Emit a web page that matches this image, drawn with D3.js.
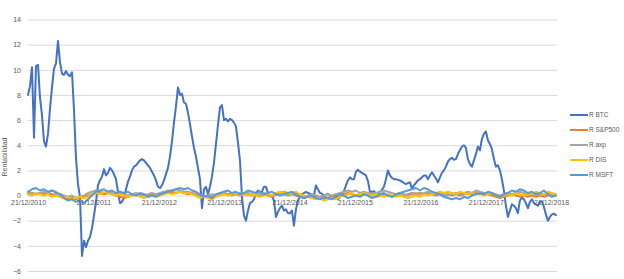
<!DOCTYPE html>
<html>
<head>
<meta charset="utf-8">
<script src="https://cdn.jsdelivr.net/npm/d3@7"></script>
<style>
  body { margin: 0; background: #fff; }
  svg { font-family: "Liberation Sans", Arial, sans-serif; }
</style>
</head>
<body>
<div id="chart"></div>
<script>
// sampled every ~11 days from 21/12/2010
const btc = [
  8.0, 8.7, 10.2, 4.6, 10.3, 10.4, 7.8, 6.4, 4.3, 3.9, 4.9, 6.9, 8.6, 10.1, 10.5, 12.3,
  10.6, 9.7, 9.6, 9.9, 9.6, 9.5, 9.8, 6.8, 3.0, 0.9, -0.1, -4.8, -3.6, -4.1, -3.6, -3.3,
  -2.6, -1.6, -0.5, 0.8, 1.2, 1.5, 2.1, 1.6, 1.8, 2.2, 2.0, 1.7, 1.3, 0.3, -0.6, -0.5,
  -0.2, 0.5, 1.1, 1.5, 2.0, 2.3, 2.4, 2.6, 2.8, 2.9, 2.8, 2.6, 2.4, 2.2, 1.9, 1.6,
  1.2, 0.7, 0.6, 0.8, 1.2, 1.7, 2.2, 3.1, 4.3, 5.8, 7.1, 8.6, 8.0, 8.1, 7.4, 7.3,
  6.6, 5.7, 4.7, 3.8, 3.1, 2.2, 1.3, -1.0, 0.5, 0.7, 0.1, 0.7, 1.5, 2.6, 4.1, 5.6,
  7.0, 7.2, 6.0, 6.1, 5.9, 6.1, 6.0, 5.8, 5.5, 4.2, 2.8, -0.1, -1.6, -2.0, -1.2, -0.6,
  -0.5, -0.3, 0.2, 0.4, 0.3, 0.3, 0.7, 0.7, 0.2, 0.0, 0.0, -0.4, -1.7, -1.3, -1.0, -0.8,
  -1.2, -1.1, -1.4, -1.4, -1.2, -2.4, -1.1, -0.4, -0.1, 0.1, 0.2, 0.3, 0.2, 0.15, 0.05, 0.0,
  0.8, 0.5, 0.2, 0.15, 0.0, 0.05, 0.15, 0.0, -0.1, -0.05, 0.0, -0.3, -0.1, 0.1, 0.35, 0.8,
  1.2, 1.45, 1.3, 1.3, 1.9, 2.05, 1.9, 1.8, 1.7, 1.6, 1.15, 0.3, 0.3, 0.35, 0.15, 0.2,
  0.3, 0.45, 0.7, 1.3, 2.0, 1.6, 1.4, 1.3, 1.3, 1.25, 1.2, 1.1, 1.0, 0.9, 1.0, 1.05,
  0.55, 0.8, 1.0, 1.2, 1.3, 1.45, 1.6, 1.6, 1.3, 1.6, 1.85, 1.6, 1.35, 1.05, 1.45, 1.8,
  2.0, 2.3, 2.7, 2.9, 3.0, 2.85, 2.9, 3.3, 3.6, 3.9, 4.0, 3.8, 2.9, 2.5, 2.3, 2.8,
  3.3, 3.9, 3.6, 4.5, 4.9, 5.1, 4.4, 4.1, 3.7, 2.9, 2.3, 2.4, 2.0, 1.3, 0.4, -0.8,
  -1.7, -1.2, -0.7, -0.8, -1.0, -1.4, -0.4, -0.15, -0.3, -0.6, -1.0, -0.5, -0.3, -0.6, -0.7, -0.8,
  -0.5, -0.45, -0.9, -1.5, -2.0, -1.7, -1.5, -1.45, -1.55
];

// the other four are sampled every ~22 days
const sp500 = [
  0.1, 0.2, 0.1, 0.2, 0.1, 0.2, 0.1, 0.0, -0.1, -0.2, -0.3, -0.2, -0.3, -0.2, -0.1, 0.0,
  0.1, 0.2, 0.2, 0.1, 0.2, 0.1, 0.0, -0.1, -0.2, -0.1, 0.0, 0.1, 0.0, 0.1, 0.0, 0.1,
  0.0, 0.1, 0.2, 0.2, 0.3, 0.2, 0.3, 0.2, 0.1, 0.2, 0.1, 0.0, -0.1, 0.0, -0.1, 0.0,
  0.1, 0.2, 0.1, 0.2, 0.1, 0.0, 0.1, 0.1, 0.0, 0.1, 0.0, 0.1, 0.0, -0.1, 0.1, 0.2,
  0.1, 0.0, 0.1, 0.0, -0.1, -0.2, -0.1, -0.2, -0.1, -0.2, -0.3, -0.2, -0.1, -0.2, 0.0, 0.1,
  0.2, 0.1, 0.0, 0.1, 0.2, 0.1, 0.0, -0.1, 0.0, 0.1, 0.0, -0.1, 0.0, 0.1, 0.0, 0.1,
  0.2, 0.1, 0.2, 0.1, 0.2, 0.1, 0.0, 0.1, 0.0, 0.1, 0.0, 0.1, 0.0, 0.1, 0.2, 0.1,
  0.2, 0.1, 0.2, 0.1, 0.0, -0.1, -0.2, -0.1, 0.0, 0.1, 0.0, -0.1, 0.0, -0.1, 0.0, -0.1,
  0.0, -0.1, 0.0, 0.1, 0.0
];

const axp = [
  0.3, 0.2, 0.1, 0.2, 0.3, 0.2, 0.4, 0.3, 0.1, 0.0, -0.1, 0.0, -0.2, -0.1, 0.0, 0.2,
  0.3, 0.4, 0.3, 0.2, 0.3, 0.2, 0.1, 0.2, 0.1, 0.0, 0.1, 0.2, 0.1, 0.0, 0.1, 0.2,
  0.1, 0.2, 0.3, 0.4, 0.4, 0.5, 0.4, 0.3, 0.3, 0.2, 0.1, 0.0, -0.1, 0.0, 0.1, 0.0,
  0.1, 0.2, 0.1, 0.0, 0.1, 0.2, 0.1, 0.2, 0.1, 0.0, 0.1, 0.2, 0.1, 0.0, 0.1, 0.2,
  0.3, 0.2, 0.1, 0.2, 0.0, -0.1, 0.0, 0.1, 0.0, -0.1, 0.0, 0.1, 0.0, 0.1, 0.2, 0.3,
  0.4, 0.3, 0.4, 0.2, 0.3, 0.2, 0.1, 0.2, 0.3, 0.4, 0.3, 0.2, 0.1, 0.2, 0.1, 0.0,
  0.1, 0.2, 0.1, 0.2, 0.3, 0.2, 0.1, 0.2, 0.1, 0.0, 0.1, 0.2, 0.1, 0.2, 0.3, 0.2,
  0.4, 0.3, 0.2, 0.1, 0.2, 0.1, 0.0, 0.1, 0.2, 0.1, 0.2, 0.3, 0.2, 0.1, 0.2, 0.1,
  0.0, 0.1, 0.2, 0.1, 0.0
];

const dis = [
  0.1, 0.0, 0.2, 0.1, 0.0, 0.1, -0.1, 0.0, -0.1, -0.2, -0.1, -0.3, -0.2, -0.1, -0.2, -0.1,
  0.1, 0.2, 0.1, 0.3, 0.2, 0.1, 0.0, 0.1, 0.0, -0.1, 0.0, 0.1, -0.1, -0.2, -0.1, 0.0,
  -0.1, 0.0, 0.1, 0.2, 0.1, 0.2, 0.3, 0.2, 0.2, 0.1, 0.0, -0.2, -0.1, -0.2, -0.3, -0.1,
  0.0, 0.1, 0.0, 0.1, 0.2, 0.0, 0.1, 0.0, 0.1, 0.0, -0.1, 0.0, 0.1, 0.0, 0.2, 0.3,
  0.2, 0.1, 0.2, 0.3, 0.1, 0.0, -0.1, -0.2, -0.3, -0.2, -0.4, -0.3, -0.2, -0.3, -0.1, 0.0,
  0.1, 0.2, 0.0, 0.1, 0.2, 0.1, 0.0, 0.1, 0.0, -0.1, 0.1, 0.0, -0.1, 0.0, -0.1, -0.2,
  -0.1, 0.0, -0.1, 0.1, 0.0, 0.1, 0.2, 0.3, 0.2, 0.3, 0.2, 0.1, 0.3, 0.2, 0.1, 0.2,
  0.1, 0.2, 0.0, 0.1, 0.2, 0.0, -0.1, 0.0, 0.1, 0.0, 0.2, 0.1, 0.0, 0.2, 0.1, 0.3,
  0.2, 0.1, 0.3, 0.2, 0.1
];

const msft = [
  0.3, 0.5, 0.6, 0.4, 0.5, 0.3, 0.4, 0.2, 0.1, -0.2, -0.4, -0.3, -0.5, -0.4, -0.6, -0.3,
  0.0, 0.3, 0.4, 0.5, 0.3, 0.4, 0.2, 0.3, 0.2, 0.3, 0.1, 0.0, 0.2, 0.1, -0.1, 0.0,
  -0.1, 0.1, 0.2, 0.3, 0.4, 0.5, 0.6, 0.5, 0.6, 0.4, 0.3, 0.1, -0.1, 0.0, -0.2, 0.1,
  0.2, 0.3, 0.4, 0.2, 0.3, 0.1, 0.2, 0.4, 0.3, 0.2, 0.3, 0.1, 0.2, 0.3, 0.1, 0.0,
  0.1, 0.2, 0.3, 0.1, -0.1, -0.2, -0.1, 0.0, -0.2, -0.3, -0.1, -0.2, -0.3, -0.1, 0.1, 0.0,
  -0.2, -0.1, 0.0, -0.1, 0.1, 0.0, -0.2, -0.1, 0.1, 0.2, 0.0, -0.1, 0.1, 0.2, 0.3, 0.4,
  0.5, 0.6, 0.4, 0.6, 0.5, 0.3, 0.2, 0.1, -0.1, -0.2, -0.3, -0.2, -0.3, -0.1, -0.2, 0.0,
  0.1, 0.2, 0.1, 0.3, 0.2, 0.0, -0.1, 0.1, 0.2, 0.4, 0.3, 0.5, 0.4, 0.2, 0.3, 0.1,
  0.2, 0.4, 0.1, -0.1, 0.0
];

const seriesNames = ['R BTC', 'R S&P500', 'R axp', 'R DIS', 'R MSFT'];
const seriesColors = ['#4472C4', '#ED7D31', '#A5A5A5', '#FFC000', '#5B9BD5'];
const tickLabels = ['21/12/2010', '21/12/2011', '21/12/2012', '21/12/2013', '21/12/2014',
  '21/12/2015', '21/12/2016', '21/12/2017', '21/12/2018'];
const yTicks = [-6, -4, -2, 0, 2, 4, 6, 8, 10, 12, 14];

const W = 624, H = 279;
const margin = {top: 19.5, right: 67, bottom: 8, left: 28};
const width = W - margin.left - margin.right;
const height = H - margin.top - margin.bottom;

const parse = d3.timeParse('%d/%m/%Y');
const start = parse('21/12/2010');
const dayMs = 864e5;
const endDate = new Date(start.getTime() + 2955 * dayMs);

function toPoints(values, stepDays) {
  return values.map((v, i) => ({x: new Date(start.getTime() + i * stepDays * dayMs), y: v}));
}

const series = [
  toPoints(btc, 11.17),
  toPoints(sp500, 22.34),
  toPoints(axp, 22.34),
  toPoints(dis, 22.34),
  toPoints(msft, 22.34)
];

const svg = d3.select('#chart').append('svg')
  .attr('width', W)
  .attr('height', H);

const g = svg.append('g')
  .attr('transform', 'translate(' + margin.left + ',' + margin.top + ')');

const xScale = d3.scaleTime().domain([start, endDate]).range([0, width]);
const yScale = d3.scaleLinear().domain([-6, 14]).range([height, 0]);

const gAxisY = g.append('g')
  .call(d3.axisLeft(yScale)
    .tickValues(yTicks)
    .tickSize(-width)
    .tickPadding(7));
gAxisY.select('.domain').remove();
gAxisY.selectAll('line').attr('stroke', '#D9D9D9').attr('stroke-width', 1);
gAxisY.selectAll('text')
  .attr('fill', '#595959')
  .style('font-size', '7px');

const line = d3.line()
  .x(d => xScale(d.x))
  .y(d => yScale(d.y));

g.append('g').selectAll('path')
  .data(series)
  .enter().append('path')
  .attr('fill', 'none')
  .attr('stroke', (d, i) => seriesColors[i])
  .attr('stroke-width', 2)
  .attr('stroke-linejoin', 'round')
  .attr('stroke-linecap', 'round')
  .attr('d', line);

const gAxisX = g.append('g')
  .attr('transform', 'translate(0,' + yScale(0) + ')')
  .call(d3.axisBottom(xScale)
    .tickValues(tickLabels.map(parse))
    .tickFormat(d3.timeFormat('%d/%m/%Y'))
    .tickSize(0)
    .tickPadding(4));
gAxisX.select('.domain').remove();
gAxisX.selectAll('text')
  .attr('fill', '#595959')
  .style('font-size', '7px');

svg.append('text')
  .attr('transform', 'translate(7,157) rotate(-90)')
  .attr('text-anchor', 'middle')
  .attr('fill', '#595959')
  .style('font-size', '7px')
  .text('Rentabilidad');

const legend = svg.append('g').attr('transform', 'translate(570,115)');
const item = legend.selectAll('g')
  .data(seriesNames)
  .enter().append('g')
  .attr('transform', (d, i) => 'translate(0,' + i * 15 + ')');
item.append('line')
  .attr('x1', 0).attr('x2', 18)
  .attr('stroke', (d, i) => seriesColors[i])
  .attr('stroke-width', 2);
item.append('text')
  .attr('x', 19)
  .attr('dy', '0.35em')
  .attr('fill', '#595959')
  .style('font-size', '6.5px')
  .text(d => d);
</script>
</body>
</html>
